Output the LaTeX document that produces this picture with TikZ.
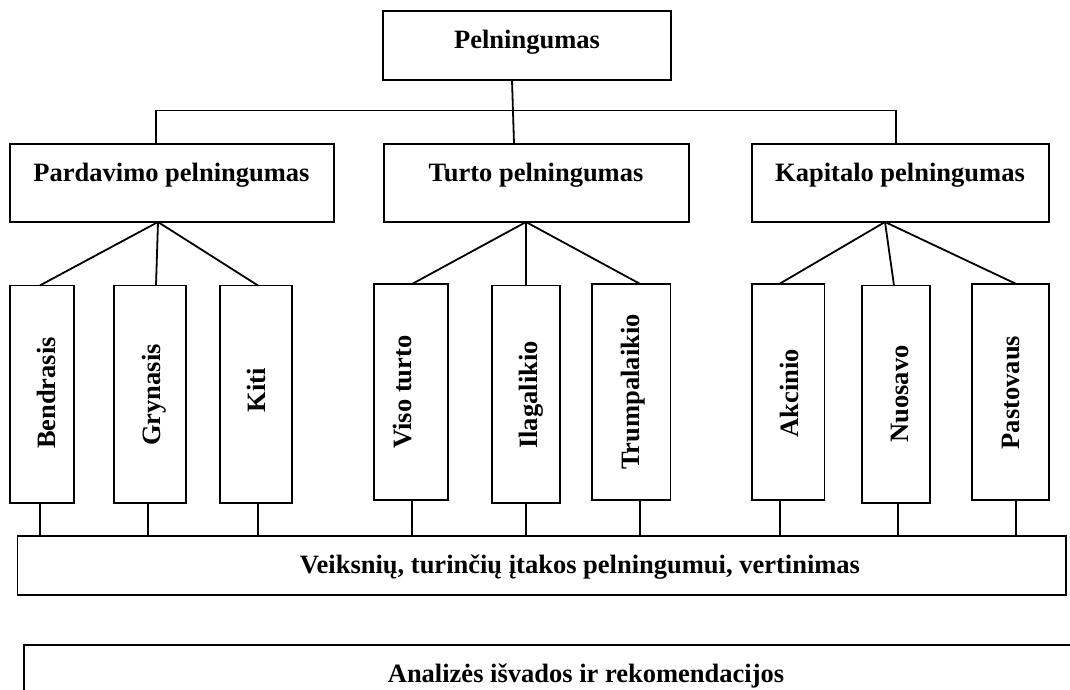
\documentclass[tikz,border=0pt]{standalone}
\usepackage{fontspec}
\setmainfont{Liberation Serif}
\begin{document}
\begin{tikzpicture}[x=1pt,y=-1pt,
  box/.style={draw,line width=1.8pt,rectangle,inner sep=0pt,outer sep=0pt},
  lbl/.style={inner sep=0pt,anchor=base,font=\bfseries\fontsize{26.5}{30}\selectfont},
  vlbl/.style={lbl,rotate=90},
  conn/.style={line width=1.8pt}]
\useasboundingbox (0,0) rectangle (1070,689);
% boxes
\node[box,minimum width=288pt,minimum height=69pt] (top) at (527,45.5) {};
\node[box,minimum width=324.4pt,minimum height=78.4pt] (pard) at (171.8,182.8) {};
\node[box,minimum width=305pt,minimum height=78.4pt] (turto) at (536.5,182.8) {};
\node[box,minimum width=296.6pt,minimum height=78.4pt] (kap) at (900.3,182.8) {};
\node[box,minimum width=64.4pt,minimum height=217.5pt] (ben) at (41.8,394.25) {};
\node[box,minimum width=72pt,minimum height=217.5pt] (gry) at (150,394.25) {};
\node[box,minimum width=72pt,minimum height=217.5pt] (kiti) at (256,394.25) {};
\node[box,minimum width=74pt,minimum height=216pt] (viso) at (411,392) {};
\node[box,minimum width=68pt,minimum height=217.5pt] (ilg) at (526,394.25) {};
\node[box,minimum width=78.5pt,minimum height=216pt] (trum) at (631.25,392) {};
\node[box,minimum width=72.4pt,minimum height=216pt] (akc) at (788.2,392) {};
\node[box,minimum width=68pt,minimum height=217.5pt] (nuo) at (896,394.25) {};
\node[box,minimum width=76.6pt,minimum height=216pt] (pas) at (1010.3,392) {};
\node[box,minimum width=1048.5pt,minimum height=59pt] (veik) at (541.75,565.5) {};
% open box at bottom
\coordinate (anTL) at (24,645);
\draw[conn] (1080,645) -- (anTL) -- (24,700);
% labels
\node[lbl] (tTop) at (527,48) {Pelningumas};
\node[lbl] (tPard) at (171.5,181.5) {Pardavimo pelningumas};
\node[lbl] (tTurto) at (536,181.5) {Turto pelningumas};
\node[lbl] (tKap) at (900,181.5) {Kapitalo pelningumas};
\node[vlbl] (tBen) at (55,393) {Bendrasis};
\node[vlbl] (tGry) at (160,395) {Grynasis};
\node[vlbl] (tKiti) at (265,390) {Kiti};
\node[vlbl] (tViso) at (411.5,392) {Viso turto};
\node[vlbl] (tIlg) at (537,395) {Ilagalikio};
\node[vlbl] (tTrum) at (639.5,392) {Trumpalaikio};
\node[vlbl] (tAkc) at (798.6,393) {Akcinio};
\node[vlbl] (tNuo) at (908,394) {Nuosavo};
\node[vlbl] (tPas) at (1019,392.5) {Pastovaus};
\node[lbl] (tVeik) at (580,573) {Veiksnių, turinčių įtakos pelningumui, vertinimas};
\node[lbl] (tAn) at (586,682) {Analizės išvados ir rekomendacijos};
% top connectors
\coordinate (hl) at (156,110.5);
\coordinate (hr) at (896,110.5);
\draw[conn] ([xshift=-15pt]top.south) -- ([xshift=-22.5pt]turto.north);
\draw[conn] (pard.north -| hl) -- (hl) -- (hr) -- (kap.north -| hr);
% fans
\coordinate (pa) at ([xshift=-13.8pt]pard.south);
\coordinate (ta) at ([xshift=-10.5pt]turto.south);
\coordinate (ka) at ([xshift=-15.3pt]kap.south);
\draw[conn] (pa) -- ([xshift=-2pt]ben.north);
\draw[conn] (pa) -- ([xshift=6pt]gry.north);
\draw[conn] (pa) -- ([xshift=2pt]kiti.north);
\draw[conn] (ta) -- ([xshift=1pt]viso.north);
\draw[conn] (ta) -- (ilg.north);
\draw[conn] (ta) -- ([xshift=9pt]trum.north);
\draw[conn] (ka) -- ([xshift=-9pt]akc.north);
\draw[conn] (ka) -- ([xshift=-2pt]nuo.north);
\draw[conn] (ka) -- ([xshift=6pt]pas.north);
% bottom connectors
\foreach \n/\s in {ben/-1.8,gry/-2,kiti/2,viso/1,ilg/0,trum/9,akc/-8,nuo/2,pas/6}{
  \draw[conn] ([xshift=\s pt]\n.south) -- ([xshift=\s pt]\n.south |- veik.north);
}
\end{tikzpicture}
\end{document}
